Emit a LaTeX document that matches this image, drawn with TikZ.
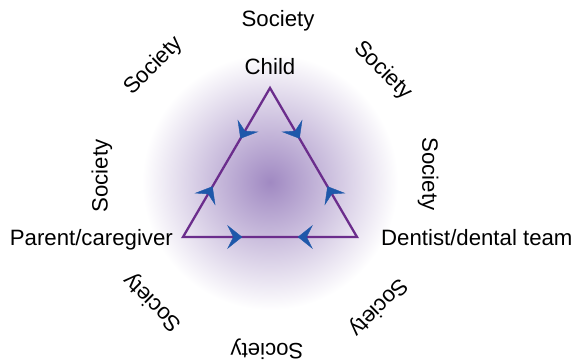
\documentclass[tikz,border=0pt]{standalone}
\usepackage{fontspec}
\setmainfont{Liberation Sans}
\usetikzlibrary{arrows.meta,decorations.markings}
\definecolor{tripurple}{RGB}{107,45,140}
\definecolor{glowpurple}{RGB}{160,137,194}
\definecolor{arrowblue}{RGB}{30,88,170}
\tikzset{
  flow/.tip={Stealth[length=15pt,width=24pt,inset=6pt,color=arrowblue]},
  twoway/.style={postaction={decorate,decoration={markings,
      mark=at position 0.34 with {\arrow{flow}},
      mark=at position 0.66 with {\arrowreversed{flow}}}}},
  ring/.style={inner sep=0pt},
  who/.style={inner sep=0pt}
}
\begin{document}
\begin{tikzpicture}[x=1pt,y=-1pt,every node/.style={font=\fontsize{22.2}{27}\selectfont}]
  \useasboundingbox (0,0) rectangle (574,363);
  % glow behind the triangle
  \shade[inner color=glowpurple,outer color=white] (270,182) circle (128);
  % corners
  \coordinate (child) at (270,88);
  \coordinate (parent) at (183,237);
  \coordinate (dentist) at (357,237);
  \draw[tripurple,line width=2.3pt,miter limit=20] (parent) -- (child) -- (dentist) -- cycle;
  \path[twoway] (parent) -- (child);
  \path[twoway] (child) -- (dentist);
  \path[twoway] (dentist) -- (parent);
  \node[who,anchor=base] (childlbl) at (270,75) {Child};
  \node[who,anchor=base east] (parentlbl) at (173,245.5) {Parent/caregiver};
  \node[who,anchor=base west] (dentistlbl) at (381,245.5) {Dentist/dental team};
  % society all round
  \node[ring,rotate=0] (socN) at (278,21) {Society};
  \node[ring,rotate=-45] (socNE) at (383,71) {Society};
  \node[ring,rotate=-90] (socE) at (428,174) {Society};
  \node[ring,rotate=-135] (socSE) at (378,307) {Society};
  \node[ring,rotate=180] (socS) at (267,349) {Society};
  \node[ring,rotate=135] (socSW) at (153,302) {Society};
  \node[ring,rotate=90] (socW) at (102,176) {Society};
  \node[ring,rotate=45] (socNW) at (154,66) {Society};
\end{tikzpicture}
\end{document}
